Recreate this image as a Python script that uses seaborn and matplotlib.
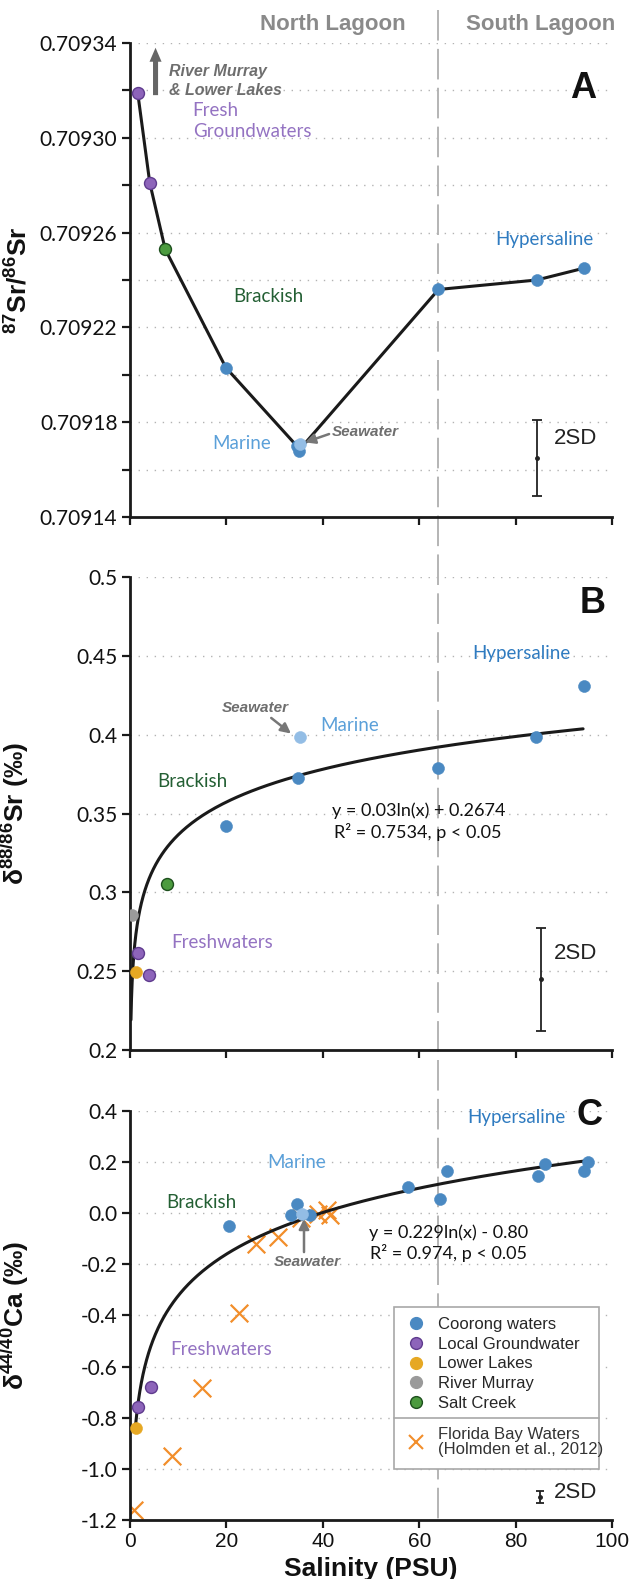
import numpy as np
import matplotlib
matplotlib.use("Agg")
import matplotlib.pyplot as plt
import seaborn as sns
import matplotlib.transforms as mtrans
from matplotlib.lines import Line2D
from matplotlib.patches import Rectangle
from matplotlib.ticker import FixedLocator, FuncFormatter

# ---------------- data ----------------
# Panel A : 87Sr/86Sr
a_gw_x = [1.6, 4.1]
a_gw_y = [0.709319, 0.709281]
a_sc_x = [7.3]
a_sc_y = [0.709253]
a_co_x = [19.9, 34.6, 35.0, 64.0, 84.4, 94.2]
a_co_y = [0.709203, 0.709170, 0.709168, 0.709236, 0.709240, 0.709245]
a_sw_x = [35.3]
a_sw_y = [0.709171]
a_sd = [84.4, 0.709165, 0.000016]

# Panel B : d88/86Sr
b_co_x = [20.0, 34.9, 64.0, 84.2, 94.1]
b_co_y = [0.3421, 0.3727, 0.3791, 0.3987, 0.4311]
b_sw_x = [35.3]
b_sw_y = [0.3985]
b_gw_x = [1.6, 3.9]
b_gw_y = [0.2617, 0.2474]
b_ll_x = [1.2]
b_ll_y = [0.2497]
b_rm_x = [0.5]
b_rm_y = [0.2856]
b_sc_x = [7.6]
b_sc_y = [0.3051]
b_fit = [0.03, 0.2674]
b_fit_range = [0.2, 94.0]
b_sd = [85.3, 0.2449, 0.0327]

# Panel C : d44/40Ca
c_co_x = [20.6, 33.3, 34.7, 37.4, 57.6, 64.3, 65.8, 84.6, 86.1, 94.2, 95.1]
c_co_y = [-0.049, -0.007, 0.036, -0.007, 0.104, 0.054, 0.166, 0.144, 0.194, 0.167, 0.202]
c_sw_x = [35.6]
c_sw_y = [-0.003]
c_gw_x = [1.66, 4.4]
c_gw_y = [-0.757, -0.681]
c_ll_x = [1.25]
c_ll_y = [-0.839]
c_fl_x = [0.8, 8.8, 14.9, 22.7, 26.1, 30.8, 35.4, 39.0, 40.8, 41.4]
c_fl_y = [-1.161, -0.949, -0.683, -0.392, -0.120, -0.092, -0.020, -0.002, 0.012, -0.008]
c_fit = [0.235, -0.864]
c_fit_range = [1.2, 95.0]
c_sd = [85.1, -1.109, 0.023]

lagoon_split = 64.0
x_ticks = [0, 20, 40, 60, 80, 100]
a_ticks = [0.70914, 0.70916, 0.70918, 0.70920, 0.70922, 0.70924, 0.70926,
           0.70928, 0.70930, 0.70932, 0.70934]
b_ticks = [0.2, 0.25, 0.3, 0.35, 0.4, 0.45, 0.5]
c_ticks = [-1.2, -1.0, -0.8, -0.6, -0.4, -0.2, 0.0, 0.2, 0.4]

# ---------------- style ----------------
sns.set_theme(style="white")
plt.rcParams["font.family"] = ["Liberation Sans", "DejaVu Sans"]
plt.rcParams["mathtext.fontset"] = "custom"
plt.rcParams["mathtext.rm"] = "Liberation Sans"
plt.rcParams["mathtext.bf"] = "Liberation Sans:bold"
plt.rcParams["axes.unicode_minus"] = False
plt.rcParams["lines.scale_dashes"] = False

C_CO = "#4a89c2"
C_SW = "#93bde5"
C_GW = "#8d64ba"
C_GW_E = "#5f3b8e"
C_LL = "#e6a823"
C_RM = "#9a9a9a"
C_SC = "#4c9b3f"
C_SC_E = "#1d4f1d"
C_FL = "#f28e2b"
T_PURPLE = "#9473c2"
T_GREEN = "#235f33"
T_MARINE = "#5ba0d9"
T_HYPER = "#2f7bc0"
T_GRAY = "#6e6e6e"

fig = plt.figure(figsize=(6.35, 15.79), dpi=100)
fig.patch.set_facecolor("white")
L, W = 0.20472, 0.75906
C_BOTTOM = 0.03737
axA = fig.add_axes([L, 0.67258, W, 0.30019])
axB = fig.add_axes([L, 0.33502, W, 0.29956])
axC = fig.add_axes([L, C_BOTTOM, W, 0.25903])

TICKFONT = dict(family="Lato", size=15)
WORDFONT = "Lato"
MS = 74
YLAB_X = -0.205
YLAB_SIZE = 19


def style_axis(ax, ticks, ylim, fmt, labelled):
    ax.set_facecolor("none")
    ax.set_xlim(0, 100)
    ax.set_ylim(*ylim)
    for s in ["top", "right"]:
        ax.spines[s].set_visible(False)
    for s in ["left", "bottom"]:
        ax.spines[s].set_color("#1a1a1a")
        ax.spines[s].set_linewidth(2.0)
    ax.xaxis.set_major_locator(FixedLocator(x_ticks))
    ax.yaxis.set_major_locator(FixedLocator(ticks))
    ax.yaxis.set_major_formatter(FuncFormatter(fmt))
    ax.tick_params(axis="both", direction="out", length=6, width=1.6,
                   color="#1a1a1a", left=True, bottom=True, pad=3)
    for t in ax.get_yticklabels():
        t.set_fontfamily(TICKFONT["family"])
        t.set_fontsize(TICKFONT["size"])
        t.set_color("#111111")
    if labelled:
        for t in ax.get_xticklabels():
            t.set_fontsize(15)
            t.set_color("#111111")
    else:
        ax.set_xticklabels([])
    ax.yaxis.grid(True, linestyle=(0, (1.0, 4.8)), color="#b3b3b3", lw=1.0)
    ax.xaxis.grid(False)
    ax.set_axisbelow(True)


def fmtA(v, pos):
    i = int(round((v - 0.70914) / 0.00002))
    return "%.5f" % v if i % 2 == 0 else ""


style_axis(axA, a_ticks, (0.70914, 0.70934), fmtA, False)
style_axis(axB, b_ticks, (0.2, 0.5), lambda v, p: "%g" % round(v, 2), False)
style_axis(axC, c_ticks, (-1.2, 0.4), lambda v, p: "%.1f" % v, True)


def pts(ax, x, y, c, ec=None, z=4):
    sns.scatterplot(x=x, y=y, ax=ax, color=c, s=MS, edgecolor=ec if ec else c,
                    linewidth=1.0 if ec else 0.4, zorder=z, legend=False)


# ---------------- panel A ----------------
line_x = a_gw_x + a_sc_x + a_co_x
line_y = a_gw_y + a_sc_y + a_co_y
sns.lineplot(x=line_x, y=line_y, ax=axA, color="#1a1a1a", lw=2.2,
             sort=True, estimator=None, zorder=3)
pts(axA, a_co_x, a_co_y, C_CO)
pts(axA, a_sw_x, a_sw_y, C_SW, z=5)
pts(axA, a_gw_x, a_gw_y, C_GW, C_GW_E)
pts(axA, a_sc_x, a_sc_y, C_SC, C_SC_E)
axA.errorbar([a_sd[0]], [a_sd[1]], yerr=[a_sd[2]], fmt="o", ms=2.5,
             color="#222222", capsize=3.5, elinewidth=1.3, capthick=1.3, zorder=4)

axA.annotate("", xy=(5.3, 0.709338), xytext=(5.3, 0.709318),
             arrowprops=dict(arrowstyle="simple,head_width=0.62,head_length=0.72,tail_width=0.26",
                             mutation_scale=14, color="#666666", shrinkA=0, shrinkB=0, lw=0))
axA.text(8.1, 0.709324, "River Murray\n& Lower Lakes", fontsize=11.5, fontweight="bold",
         fontstyle="italic", color=T_GRAY, ha="left", va="center", linespacing=1.35)
axA.text(13.0, 0.709307, "Fresh\nGroundwaters", fontsize=13.5, family=WORDFONT,
         color=T_PURPLE, ha="left", va="center", linespacing=1.3)
axA.text(28.8, 0.709233, "Brackish", fontsize=13.5, family=WORDFONT, color=T_GREEN,
         ha="center", va="center")
axA.text(23.2, 0.709171, "Marine", fontsize=13.5, family=WORDFONT, color=T_MARINE,
         ha="center", va="center")
axA.text(41.8, 0.709176, "Seawater", fontsize=11, fontweight="bold", fontstyle="italic",
         color=T_GRAY, ha="left", va="center")
axA.annotate("", xy=(36.3, 0.7091715), xytext=(41.3, 0.709175),
             arrowprops=dict(arrowstyle="-|>,head_width=0.25,head_length=0.5", lw=1.8,
                             color="#777777", shrinkA=0, shrinkB=0))
axA.text(85.9, 0.709257, "Hypersaline", fontsize=13.5, family=WORDFONT, color=T_HYPER,
         ha="center", va="center")
axA.text(94.0, 0.709321, "A", fontsize=26, fontweight="bold", color="#111111",
         ha="center", va="center")
axA.text(88.0, 0.709173, "2SD", fontsize=16, color="#222222", ha="left", va="center")
axA.set_ylabel(r"$^{\mathbf{87}}$Sr/$^{\mathbf{86}}$Sr", fontsize=YLAB_SIZE,
               fontweight="bold", color="#111111")
axA.yaxis.set_label_coords(YLAB_X, 0.5)

# ---------------- panel B ----------------
bx = np.geomspace(b_fit_range[0], b_fit_range[1], 300)
sns.lineplot(x=bx, y=b_fit[0] * np.log(bx) + b_fit[1], ax=axB, color="#1a1a1a",
             lw=2.2, zorder=3)
pts(axB, b_co_x, b_co_y, C_CO)
pts(axB, b_sw_x, b_sw_y, C_SW)
pts(axB, b_gw_x, b_gw_y, C_GW, C_GW_E)
pts(axB, b_ll_x, b_ll_y, C_LL)
pts(axB, b_rm_x, b_rm_y, C_RM)
pts(axB, b_sc_x, b_sc_y, C_SC, C_SC_E)
axB.errorbar([b_sd[0]], [b_sd[1]], yerr=[b_sd[2]], fmt="o", ms=2.5,
             color="#222222", capsize=3.5, elinewidth=1.3, capthick=1.3, zorder=4)
axB.text(95.9, 0.4835, "B", fontsize=26, fontweight="bold", color="#111111",
         ha="center", va="center")
axB.text(81.1, 0.4512, "Hypersaline", fontsize=13.5, family=WORDFONT, color=T_HYPER,
         ha="center", va="center")
axB.text(26.1, 0.4171, "Seawater", fontsize=11, fontweight="bold", fontstyle="italic",
         color=T_GRAY, ha="center", va="center")
axB.annotate("", xy=(33.4, 0.4007), xytext=(29.3, 0.4106),
             arrowprops=dict(arrowstyle="-|>,head_width=0.25,head_length=0.5", lw=1.8,
                             color="#777777", shrinkA=0, shrinkB=0))
axB.text(39.4, 0.4061, "Marine", fontsize=13.5, family=WORDFONT, color=T_MARINE,
         ha="left", va="center")
axB.text(13.0, 0.3706, "Brackish", fontsize=13.5, family=WORDFONT, color=T_GREEN,
         ha="center", va="center")
axB.text(19.2, 0.2683, "Freshwaters", fontsize=13.5, family=WORDFONT, color=T_PURPLE,
         ha="center", va="center")
axB.text(60.0, 0.3518, "y = 0.03ln(x) + 0.2674", fontsize=13, family=WORDFONT,
         color="#111111", ha="center", va="center")
axB.text(59.6, 0.3383, "R² = 0.7534, p < 0.05", fontsize=13, family=WORDFONT,
         color="#111111", ha="center", va="center")
axB.text(88.0, 0.2615, "2SD", fontsize=16, color="#222222", ha="left", va="center")
axB.set_ylabel("δ$^{\\mathbf{88/86}}$Sr (‰)", fontsize=YLAB_SIZE, fontweight="bold",
               color="#111111")
axB.yaxis.set_label_coords(YLAB_X, 0.5)

# ---------------- panel C ----------------
sns.scatterplot(x=c_fl_x, y=c_fl_y, ax=axC, color=C_FL, marker="x", s=160,
                linewidth=1.6, zorder=2, legend=False)
cx = np.geomspace(c_fit_range[0], c_fit_range[1], 300)
sns.lineplot(x=cx, y=c_fit[0] * np.log(cx) + c_fit[1], ax=axC, color="#1a1a1a",
             lw=2.2, zorder=3)
pts(axC, c_co_x, c_co_y, C_CO)
pts(axC, c_sw_x, c_sw_y, C_SW)
pts(axC, c_gw_x, c_gw_y, C_GW, C_GW_E)
pts(axC, c_ll_x, c_ll_y, C_LL)
axC.errorbar([c_sd[0]], [c_sd[1]], yerr=[c_sd[2]], fmt="o", ms=2.5,
             color="#222222", capsize=3.0, elinewidth=1.3, capthick=1.3, zorder=4)
axC.text(95.4, 0.384, "C", fontsize=26, fontweight="bold", color="#111111",
         ha="center", va="center")
axC.text(80.1, 0.3726, "Hypersaline", fontsize=13.5, family=WORDFONT, color=T_HYPER,
         ha="center", va="center")
axC.text(34.6, 0.1966, "Marine", fontsize=13.5, family=WORDFONT, color=T_MARINE,
         ha="center", va="center")
axC.text(14.9, 0.0413, "Brackish", fontsize=13.5, family=WORDFONT, color=T_GREEN,
         ha="center", va="center")
axC.text(36.7, -0.19, "Seawater", fontsize=11, fontweight="bold", fontstyle="italic",
         color=T_GRAY, ha="center", va="center")
axC.annotate("", xy=(36.1, -0.022), xytext=(36.1, -0.152),
             arrowprops=dict(arrowstyle="-|>,head_width=0.25,head_length=0.5", lw=1.8,
                             color="#777777", shrinkA=0, shrinkB=0))
axC.text(66.1, -0.0761, "y = 0.229ln(x) - 0.80", fontsize=13, family=WORDFONT,
         color="#111111", ha="center", va="center")
axC.text(66.0, -0.1555, "R² = 0.974, p < 0.05", fontsize=13, family=WORDFONT,
         color="#111111", ha="center", va="center")
axC.text(19.0, -0.535, "Freshwaters", fontsize=13.5, family=WORDFONT, color=T_PURPLE,
         ha="center", va="center")
axC.text(88.0, -1.094, "2SD", fontsize=16, color="#222222", ha="left", va="center")
axC.set_ylabel("δ$^{\\mathbf{44/40}}$Ca (‰)", fontsize=YLAB_SIZE, fontweight="bold",
               color="#111111")
axC.yaxis.set_label_coords(YLAB_X, 0.5)
axC.set_xlabel("Salinity (PSU)", fontsize=19, fontweight="bold", color="#111111",
               labelpad=4)

# legend
box = Rectangle((0.5477, 0.125), 0.4253, 0.396, transform=axC.transAxes,
                facecolor="white", edgecolor="#a8a8a8", lw=1.2, zorder=6)
axC.add_patch(box)
sep = Line2D([0.5477, 0.973], [0.25, 0.25], transform=axC.transAxes,
             color="#a8a8a8", lw=1.2, zorder=7)
axC.add_line(sep)
h1 = [Line2D([], [], marker="o", ls="None", ms=8.5, color=C_CO, mec=C_CO),
      Line2D([], [], marker="o", ls="None", ms=8.5, color=C_GW, mec=C_GW_E, mew=1.0),
      Line2D([], [], marker="o", ls="None", ms=8.5, color=C_LL, mec=C_LL),
      Line2D([], [], marker="o", ls="None", ms=8.5, color=C_RM, mec=C_RM),
      Line2D([], [], marker="o", ls="None", ms=8.5, color=C_SC, mec=C_SC_E, mew=1.0)]
l1 = ["Coorong waters", "Local Groundwater", "Lower Lakes", "River Murray", "Salt Creek"]
leg1 = axC.legend(h1, l1, loc="upper left", bbox_to_anchor=(0.5734, 0.497),
                  frameon=False, fontsize=12, handlelength=1.2, handletextpad=0.7,
                  labelspacing=0.29, borderpad=0, borderaxespad=0)
leg1.set_zorder(8)
axC.add_artist(leg1)
h2 = [Line2D([], [], marker="x", ls="None", ms=10, color=C_FL, mew=1.5)]
leg2 = axC.legend(h2, ["Florida Bay Waters\n(Holmden et al., 2012)"], loc="upper left",
                  bbox_to_anchor=(0.5734, 0.228), frameon=False, fontsize=12,
                  handlelength=1.2, handletextpad=0.7, borderpad=0, borderaxespad=0)
leg2.set_zorder(8)
for t in leg2.get_texts():
    t.set_color("#333333")
    t.set_linespacing(1.0)

# lagoon divider across the whole figure
trans = mtrans.blended_transform_factory(axC.transData, fig.transFigure)
fig.add_artist(Line2D([lagoon_split, lagoon_split], [0.9937, C_BOTTOM], transform=trans,
                      color="#b4b4b4", lw=1.4, linestyle=(0, (22, 6)), zorder=-1))
fig.text(0.5244, 0.9848, "North Lagoon", fontsize=16, fontweight="bold", color="#8a8a8a",
         ha="center", va="center")
fig.text(0.852, 0.9848, "South Lagoon", fontsize=16, fontweight="bold", color="#8a8a8a",
         ha="center", va="center")

fig.savefig("out.png", dpi=100, facecolor="white")
